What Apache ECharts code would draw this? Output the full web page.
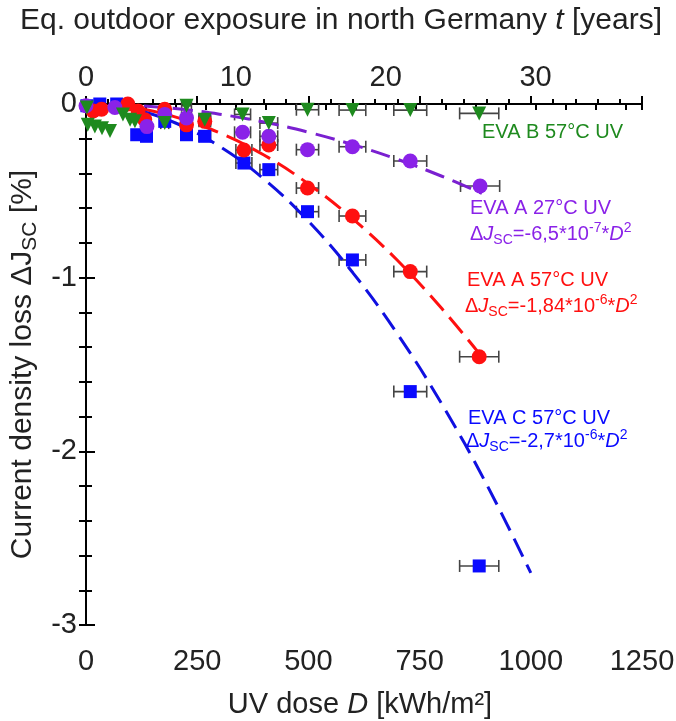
<!DOCTYPE html>
<html>
<head>
<meta charset="utf-8">
<script src="https://cdn.jsdelivr.net/npm/echarts@6/dist/echarts.min.js"></script>
<style>
  html, body { margin: 0; padding: 0; background: #fff; }
  #chart { width: 676px; height: 721px; }
</style>
</head>
<body>
<div id="chart"></div>
<script>
// measured points [UV dose D, delta Jsc %]
const evaC57 = [[2, -0.01], [31, 0], [69, 0], [114, -0.177], [136, -0.186], [177, -0.10], [226, -0.177], [267, -0.186],
  [355, -0.34], [411, -0.378], [498, -0.62], [599, -0.898], [729, -1.656], [884, -2.66]];
const evaC57Err = [0, 0, 0, 0, 0, 9, 11, 13, 18, 20, 25, 30, 37, 44];

const evaA57 = [[16, -0.04], [35, -0.03], [94, 0], [117, -0.04], [132, -0.09], [177, -0.03], [226, -0.12], [267, -0.10],
  [355, -0.265], [411, -0.236], [498, -0.484], [599, -0.645], [729, -0.965], [884, -1.455]];
const evaA57Err = [0, 0, 0, 0, 0, 9, 11, 13, 18, 20, 25, 30, 37, 44];

const evaA27 = [[0, -0.01], [65, -0.02], [137, -0.13], [177, -0.06], [226, -0.08], [352, -0.163], [411, -0.186],
  [498, -0.263], [599, -0.246], [729, -0.328], [886, -0.472]];
const evaA27Err = [0, 0, 0, 9, 11, 18, 20, 25, 30, 37, 44];

const evaB57 = [[2, -0.02], [4, -0.12], [20, -0.13], [36, -0.14], [54, -0.155], [83, -0.06], [99, -0.09], [110, -0.10],
  [177, -0.11], [226, -0.01], [267, -0.09], [352, -0.06], [411, -0.11], [498, -0.033], [599, -0.035], [729, -0.035], [884, -0.054]];
const evaB57Err = [0, 0, 0, 0, 0, 0, 0, 0, 9, 11, 13, 18, 20, 25, 30, 37, 44];

// fitted curves
const fitA27 = [[0, 0], [100, -0.0065], [200, -0.026], [300, -0.0585], [400, -0.104], [500, -0.1625], [600, -0.234], [700, -0.3185], [800, -0.416], [890, -0.515]];
const fitA57 = [[0, 0], [100, -0.018], [200, -0.074], [300, -0.166], [400, -0.294], [500, -0.46], [600, -0.662], [700, -0.90], [800, -1.178], [885, -1.44]];
const fitC57 = [[0, 0], [100, -0.027], [200, -0.108], [300, -0.243], [400, -0.432], [500, -0.675], [600, -0.972], [700, -1.323], [800, -1.728], [900, -2.187], [1000, -2.70]];

const FONT = "'Liberation Sans', Arial, sans-serif";
const cBlue = "#0a0aff", cRed = "#ff1010", cPurple = "#8a22e8", cGreen = "#1e8a1e";
const TXT = "#222";

// error bars: [D, value, half width]
function withErr(pts, err) {
  return pts.map((p, i) => [p[0], p[1], err[i]]).filter((p) => p[2] > 0);
}
const errData = []
  .concat(withErr(evaC57, evaC57Err))
  .concat(withErr(evaA57, evaA57Err))
  .concat(withErr(evaA27, evaA27Err))
  .concat(withErr(evaB57, evaB57Err));

const chart = echarts.init(document.getElementById("chart"));

const richEq = function (color) {
  return {
    d: { fontSize: 20, fill: color, fontFamily: FONT, lineHeight: 26 },
    i: { fontSize: 20, fill: color, fontFamily: FONT, fontStyle: "italic", lineHeight: 26 },
    sub: { fontSize: 14, fill: color, fontFamily: FONT, verticalAlign: "bottom", lineHeight: 12 },
    sup: { fontSize: 14, fill: color, fontFamily: FONT, verticalAlign: "top", lineHeight: 12 },
  };
};

function label(text, x, y, color) {
  return {
    type: "text",
    left: x,
    top: y,
    style: { text: text, fill: color, font: "20px " + FONT, rich: richEq(color) },
  };
}

const option = {
  animation: false,
  grid: { left: 86, right: 34, top: 104, bottom: 96, outerBoundsMode: "none", containLabel: false },
  xAxis: [
    {
      type: "value",
      position: "bottom",
      min: 0,
      max: 1250,
      interval: 250,
      name: "UV dose {i|D} [kWh/m²]",
      nameLocation: "middle",
      nameGap: 65,
      nameTextStyle: {
        fontFamily: FONT, fontSize: 29, color: TXT, padding: [0, 8, 0, 0],
        rich: { i: { fontFamily: FONT, fontSize: 29, fontStyle: "italic", color: TXT } },
      },
      axisLine: { show: true, lineStyle: { color: "#000", width: 2 } },
      axisTick: { inside: true, length: 8, lineStyle: { color: "#000", width: 2 } },
      minorTick: { show: true, splitNumber: 5, length: 5, lineStyle: { color: "#000", width: 2 } },
      axisLabel: { margin: 22, fontFamily: FONT, fontSize: 29, color: TXT, formatter: (v) => String(v) },
      splitLine: { show: false },
    },
    {
      type: "value",
      position: "top",
      min: 0,
      max: 37.1,
      interval: 2,
      name: "Eq. outdoor exposure in north Germany {i|t} [years]",
      nameLocation: "middle",
      nameGap: 68,
      nameTextStyle: {
        fontFamily: FONT, fontSize: 30, color: TXT, padding: [0, 46, 0, 0],
        rich: { i: { fontFamily: FONT, fontSize: 30, fontStyle: "italic", color: TXT } },
      },
      axisLine: { show: true, lineStyle: { color: "#000", width: 2 } },
      axisTick: { inside: true, length: 6, lineStyle: { color: "#000", width: 2 } },
      axisLabel: {
        margin: 12, fontFamily: FONT, fontSize: 29, color: TXT,
        formatter: (v) => (Math.abs(v % 10) < 1e-6 ? String(v) : ""),
      },
      splitLine: { show: false },
    },
  ],
  yAxis: [
    {
      type: "value",
      position: "left",
      min: -3,
      max: 0,
      interval: 1,
      name: "Current density loss ΔJ{sub|SC} [%]",
      nameLocation: "middle",
      nameGap: 41,
      nameTextStyle: {
        fontFamily: FONT, fontSize: 30, color: TXT, lineHeight: 36,
        rich: { sub: { fontFamily: FONT, fontSize: 21, color: TXT, verticalAlign: "bottom", lineHeight: 18 } },
      },
      axisLine: { show: true, lineStyle: { color: "#000", width: 2 } },
      axisTick: { inside: true, length: 9, lineStyle: { color: "#000", width: 2 } },
      minorTick: { show: true, splitNumber: 5, length: 6, lineStyle: { color: "#000", width: 2 } },
      axisLabel: { margin: 9, fontFamily: FONT, fontSize: 29, color: TXT },
      splitLine: { show: false },
    },
    {
      type: "value",
      position: "right",
      min: -3,
      max: 0,
      interval: 0.2,
      axisLine: { show: true, lineStyle: { color: "#000", width: 2 } },
      axisTick: { inside: true, length: 7, lineStyle: { color: "#000", width: 2 } },
      axisLabel: { show: false },
      splitLine: { show: false },
    },
  ],
  graphic: [
    label("EVA B 57°C UV", 482, 122, cGreen),
    label("EVA A 27°C UV", 470, 198, cPurple),
    label("{d|Δ}{i|J}{sub|SC}{d|=-6,5*10}{sup|-7}{d|*}{i|D}{sup|2}", 470, 221, cPurple),
    label("EVA A 57°C UV", 467, 270, cRed),
    label("{d|Δ}{i|J}{sub|SC}{d|=-1,84*10}{sup|-6}{d|*}{i|D}{sup|2}", 465, 293, cRed),
    label("EVA C 57°C UV", 468, 408, cBlue),
    label("{d|Δ}{i|J}{sub|SC}{d|=-2,7*10}{sup|-6}{d|*}{i|D}{sup|2}", 466, 428, cBlue),
  ],
  series: [
    {
      name: "err",
      type: "custom",
      clip: false,
      z: 1,
      data: errData,
      renderItem: function (params, api) {
        const x = api.value(0), y = api.value(1), e = api.value(2);
        const a = api.coord([x - e, y]);
        const b = api.coord([x + e, y]);
        const h = 6;
        const st = { stroke: "#444", lineWidth: 1.6 };
        return {
          type: "group",
          children: [
            { type: "line", shape: { x1: a[0], y1: a[1], x2: b[0], y2: b[1] }, style: st },
            { type: "line", shape: { x1: a[0], y1: a[1] - h, x2: a[0], y2: a[1] + h }, style: st },
            { type: "line", shape: { x1: b[0], y1: b[1] - h, x2: b[0], y2: b[1] + h }, style: st },
          ],
        };
      },
    },
    { name: "fit A27", type: "line", data: fitA27, smooth: 0.4, showSymbol: false, z: 2, clip: false,
      lineStyle: { color: "#7a20d0", width: 3, type: [20, 9] } },
    { name: "fit A57", type: "line", data: fitA57, smooth: 0.4, showSymbol: false, z: 2, clip: false,
      lineStyle: { color: cRed, width: 3, type: [20, 9] } },
    { name: "fit C57", type: "line", data: fitC57, smooth: 0.4, showSymbol: false, z: 2, clip: false,
      lineStyle: { color: "#1010e0", width: 3, type: [20, 9] } },
    { name: "EVA C 57°C UV", type: "scatter", data: evaC57, symbol: "rect", symbolSize: 13, clip: false, z: 3,
      itemStyle: { color: cBlue, opacity: 1 } },
    { name: "EVA A 57°C UV", type: "scatter", data: evaA57, symbol: "circle", symbolSize: 15, clip: false, z: 3,
      itemStyle: { color: cRed, opacity: 1 } },
    { name: "EVA A 27°C UV", type: "scatter", data: evaA27, symbol: "circle", symbolSize: 15, clip: false, z: 3,
      itemStyle: { color: cPurple, opacity: 1 } },
    { name: "EVA B 57°C UV", type: "scatter", data: evaB57, symbol: "triangle", symbolRotate: 180, symbolSize: 14, clip: false, z: 3,
      itemStyle: { color: cGreen, opacity: 1 } },
  ],
};

chart.setOption(option);
</script>
</body>
</html>
